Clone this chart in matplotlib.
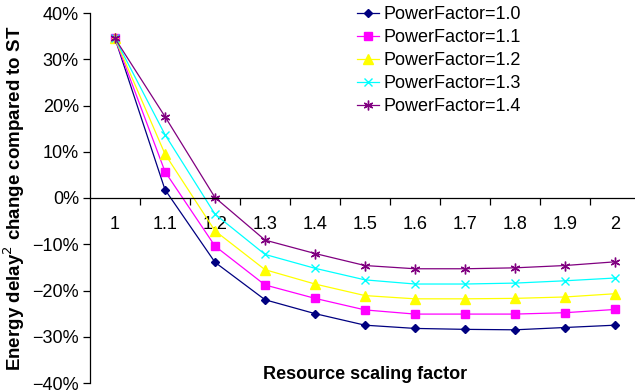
import numpy as np
import matplotlib
matplotlib.use('Agg')
from matplotlib import pyplot as plt
from matplotlib.ticker import FixedLocator, PercentFormatter

plt.rcParams['font.family'] = ['Liberation Sans', 'DejaVu Sans']

# 数据
scaling = ['1', '1.1', '1.2', '1.3', '1.4', '1.5', '1.6', '1.7', '1.8', '1.9', '2']
pf_labels = ['PowerFactor=1.0', 'PowerFactor=1.1', 'PowerFactor=1.2',
             'PowerFactor=1.3', 'PowerFactor=1.4']
pf10 = [34.5, 1.8, -13.9, -22.0, -25.0, -27.5, -28.2, -28.4, -28.5, -28.0, -27.5]
pf11 = [34.5, 5.7, -10.4, -18.8, -21.7, -24.2, -25.1, -25.1, -25.1, -24.8, -24.1]
pf12 = [34.5, 9.5, -7.1, -15.5, -18.6, -21.1, -21.8, -21.8, -21.7, -21.4, -20.7]
pf13 = [34.5, 13.7, -3.5, -12.2, -15.2, -17.7, -18.6, -18.6, -18.4, -17.9, -17.3]
pf14 = [34.5, 17.6, 0.1, -9.1, -12.0, -14.6, -15.3, -15.3, -15.1, -14.6, -13.8]

series = [pf10, pf11, pf12, pf13, pf14]
colors = ['#000080', '#ff00ff', '#ffff00', '#00ffff', '#800080']
markers = ['D', 's', '^', 'x', (6, 2, 0)]
msizes = [4.5, 6, 6.5, 6, 7]

fig = plt.figure(figsize=(6.35, 3.92), dpi=100)
ax = fig.add_axes([90 / 635, 9 / 392, 550 / 635, 370 / 392])

x = np.arange(len(scaling))
for ys, c, m, ms, lab in zip(series, colors, markers, msizes, pf_labels):
    ax.plot(x, ys, color=c, lw=0.9, marker=m, ms=ms, mfc=c, mec=c,
            mew=1.0, label=lab)

ax.set_xlim(-0.5, len(scaling) - 0.5)
ax.set_ylim(-40, 40)
ax.yaxis.set_major_locator(FixedLocator(np.arange(-40, 41, 10)))
ax.yaxis.set_major_formatter(PercentFormatter(decimals=0))
ax.set_xticks(x)
ax.set_xticklabels(scaling)
ax.xaxis.set_minor_locator(FixedLocator(np.arange(0.5, len(scaling) - 1, 1.0)))

ax.spines['bottom'].set_position(('data', 0))
ax.spines['top'].set_visible(False)
ax.spines['right'].set_visible(False)
for s in ['left', 'bottom']:
    ax.spines[s].set_linewidth(0.9)

ax.tick_params(axis='x', which='major', length=0, pad=13, labelsize=13)
ax.tick_params(axis='x', which='minor', length=5, width=0.9, direction='out')
ax.tick_params(axis='y', length=5, width=0.9, pad=3, labelsize=13)

ax.set_ylabel('Energy delay$^2$ change compared to ST', fontsize=13.5,
              fontweight='bold', labelpad=4)
ax.text(0.5, 0.022, 'Resource scaling factor', transform=ax.transAxes,
        ha='center', va='center', fontsize=13, fontweight='bold')

ax.legend(loc='upper left', bbox_to_anchor=(357 / 635, 1 - 6 / 392),
          bbox_transform=fig.transFigure, frameon=False, fontsize=13,
          handlelength=1.2, handletextpad=0.25, labelspacing=0.33,
          borderpad=0, borderaxespad=0)

plt.savefig('out.png', dpi=100)
